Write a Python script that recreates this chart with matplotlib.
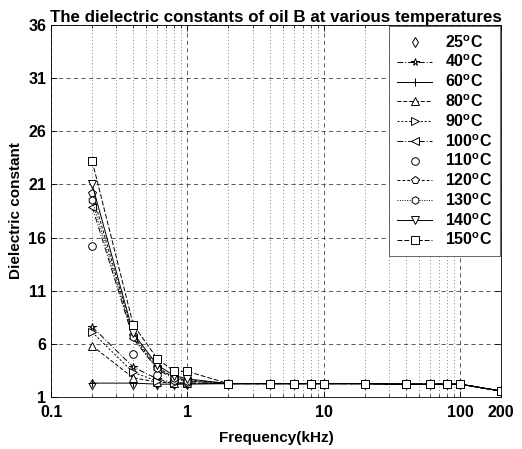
import numpy as np
import matplotlib
matplotlib.use("Agg")
from matplotlib import pyplot as plt
from matplotlib.ticker import FixedLocator, NullFormatter

plt.rcParams['font.family'] = ['Liberation Sans', 'DejaVu Sans']
plt.rcParams['font.weight'] = 'bold'
plt.rcParams['mathtext.fontset'] = 'custom'
plt.rcParams['mathtext.rm'] = 'Liberation Sans:bold'

# data
freqs = [0.2, 0.4, 0.6, 0.8, 1, 2, 4, 6, 8, 10, 20, 40, 60, 80, 100, 200]
temps = [25, 40, 60, 80, 90, 100, 110, 120, 130, 140, 150]
tail = [2.25, 2.25, 2.25, 2.25, 2.25, 2.25, 2.2, 2.2, 2.2, 2.2, 1.55]

eps_25 = [2.2, 2.2, 2.2, 2.2, 2.2] + tail
eps_40 = [7.6, 3.8, 2.7, 2.3, 2.3] + tail
eps_60 = [2.3, 2.3, 2.2, 2.2, 2.2] + tail
eps_80 = [5.8, 2.8, 2.4, 2.3, 2.3] + tail
eps_90 = [7.1, 3.3, 2.5, 2.3, 2.3] + tail
eps_100 = [18.9, 6.5, 3.6, 2.7, 2.5] + tail
eps_110 = [15.2, 5.0, 3.1, 2.6, 2.4] + tail
eps_120 = [20.2, 6.8, 3.8, 2.8, 2.6] + tail
eps_130 = [19.5, 6.6, 3.7, 2.8, 2.5] + tail
eps_140 = [21.0, 7.0, 4.0, 3.0, 2.7] + tail
eps_150 = [23.2, 7.8, 4.6, 3.4, 3.4] + tail

series = [eps_25, eps_40, eps_60, eps_80, eps_90, eps_100,
          eps_110, eps_120, eps_130, eps_140, eps_150]
markers = ['d', '*', '+', '^', '>', '<', 'o', 'p', 'h', 'v', 's']
styles = ['none', (0, (6, 2, 1, 2)), '-', (0, (4, 2)), (0, (2, 2)),
          (0, (6, 2, 1, 2)), 'none', (0, (3, 2)), (0, (1, 1.5)), '-', (0, (5, 2))]

fig = plt.figure(figsize=(5.22, 4.49), dpi=100)
ax = fig.add_axes([0.098, 0.116, 0.862, 0.828])

for t, y, m, ls in zip(temps, series, markers, styles):
    ax.plot(freqs, y, color='black', linestyle=ls, linewidth=0.7,
            marker=m, markersize=5.5, markerfacecolor='white',
            markeredgecolor='black', markeredgewidth=0.7,
            label=f'{t}$^{{\\mathrm{{o}}}}$C')

ax.set_xscale('log')
ax.set_xlim(0.1, 200)
ax.set_ylim(1, 36)
ax.set_xticks([0.1, 1, 10, 100, 200])
ax.set_xticklabels(['0.1', '1', '10', '100', '200'])
ax.xaxis.set_minor_locator(FixedLocator(
    [k * 10.0 ** e for e in (-1, 0, 1) for k in range(2, 10)]))
ax.xaxis.set_minor_formatter(NullFormatter())
ax.set_yticks(np.arange(1, 37, 5))

ax.tick_params(axis='both', which='major', labelsize=11.5, direction='in',
               length=4, width=0.6)
ax.tick_params(axis='x', which='major', pad=6)
ax.tick_params(axis='x', which='minor', direction='in', length=2, width=0.5)
ax.tick_params(top=True, right=True, which='both')
for lab in ax.get_xticklabels() + ax.get_yticklabels():
    lab.set_fontweight('bold')

ax.grid(True, which='major', linestyle=(0, (5, 4)), linewidth=0.6, color='0.25')
ax.grid(True, which='minor', axis='x', linestyle=(0, (1, 3)), linewidth=0.6, color='0.35')
for s in ax.spines.values():
    s.set_linewidth(0.6)

ax.set_title('The dielectric constants of oil B at various temperatures',
             fontsize=12.2, fontweight='bold', pad=2)
ax.set_xlabel('Frequency(kHz)', fontsize=11, fontweight='bold', labelpad=8)
ax.set_ylabel('Dielectric constant', fontsize=11, fontweight='bold', labelpad=4)

leg = ax.legend(loc='upper right', fontsize=11.5, frameon=True, fancybox=False,
                edgecolor='0.3', handlelength=2.2, borderaxespad=0.05,
                labelspacing=0.2, borderpad=0.5, framealpha=1)
leg.get_frame().set_linewidth(0.6)

fig.savefig('out.png', dpi=100)
